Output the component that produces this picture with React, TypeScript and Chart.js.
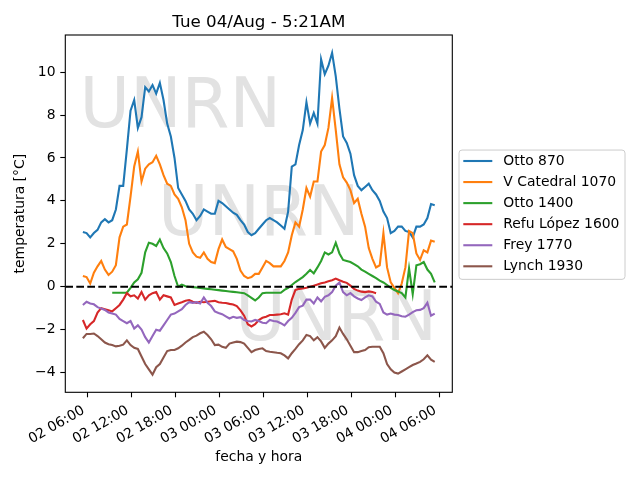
import React, { useEffect, useRef } from "react";
import { Chart, registerables } from "chart.js";

Chart.register(...registerables);

// hours since 02/Aug 00:00, one reading every half hour
const HOURS = [
  5.35, 5.85, 6.35, 6.85, 7.35, 7.85, 8.35, 8.85, 9.35, 9.85, 10.35, 10.85,
  11.35, 11.85, 12.35, 12.85, 13.35, 13.85, 14.35, 14.85, 15.35, 15.85, 16.35,
  16.85, 17.35, 17.85, 18.35, 18.85, 19.35, 19.85, 20.35, 20.85, 21.35, 21.85,
  22.35, 22.85, 23.35, 23.85, 24.35, 24.85, 25.35, 25.85, 26.35, 26.85, 27.35,
  27.85, 28.35, 28.85, 29.35, 29.85, 30.35, 30.85, 31.35, 31.85, 32.35, 32.85,
  33.35, 33.85, 34.35, 34.85, 35.35, 35.85, 36.35, 36.85, 37.35, 37.85, 38.35,
  38.85, 39.35, 39.85, 40.35, 40.85, 41.35, 41.85, 42.35, 42.85, 43.35, 43.85,
  44.35, 44.85, 45.35, 45.85, 46.35, 46.85, 47.35, 47.85, 48.35, 48.85, 49.35,
  49.85, 50.35, 50.85, 51.35, 51.85, 52.35, 52.85, 53.35,
];

const OTTO_870 = [
  2.55, 2.5, 2.3, 2.5, 2.65, 3.0, 3.15, 3.0, 3.1, 3.6, 4.7, 4.7, 6.4, 8.2, 8.7,
  7.4, 7.9, 9.3, 9.1, 9.4, 9.0, 9.5, 8.7, 7.6, 7.0, 6.0, 4.6, 4.3, 4.0, 3.6,
  3.4, 3.1, 3.3, 3.6, 3.5, 3.4, 3.4, 4.0, 3.9, 3.75, 3.6, 3.45, 3.35, 3.1, 2.9,
  2.55, 2.4, 2.5, 2.7, 2.9, 3.1, 3.2, 3.1, 3.0, 2.85, 2.7, 3.5, 5.6, 5.7, 6.6,
  7.3, 8.6, 7.6, 8.1, 7.6, 10.6, 9.9, 10.3, 10.9, 9.8, 8.3, 7.0, 6.7, 6.2, 5.2,
  4.7, 4.5, 4.65, 4.8, 4.5, 4.3, 4.0, 3.5, 3.2, 2.5, 2.6, 2.8, 2.8, 2.6, 2.55,
  2.3, 2.8, 2.8, 2.9, 3.2, 3.85, 3.8,
];

const V_CATEDRAL_1070 = [
  0.5, 0.45, 0.15, 0.65, 0.95, 1.2, 0.8, 0.55, 0.7, 1.0, 2.3, 2.8, 2.9, 4.2,
  5.6, 6.3, 4.9, 5.5, 5.7, 5.8, 6.1, 5.7, 5.2, 4.8, 4.7, 4.3, 4.1, 3.7, 3.1,
  2.0, 1.6, 1.4, 1.35, 1.6, 1.3, 1.15, 1.1, 1.75, 2.2, 1.85, 1.75, 1.65, 1.3,
  0.75, 0.5, 0.4, 0.45, 0.6, 0.6, 0.9, 1.2, 1.1, 0.95, 0.95, 0.95, 1.2, 1.6,
  2.4, 3.0, 2.8, 3.6, 4.6, 4.2, 4.9, 4.9, 6.3, 6.6, 7.4, 8.8, 7.3, 5.7, 5.1,
  4.85, 4.5, 3.9, 4.1, 3.4, 2.8, 1.8, 1.3, 0.9, 1.0, 2.5, 0.9, 0.2, -0.05,
  -0.3, 0.15, 0.9, 2.6, 2.5, 1.55, 1.25, 1.7, 1.6, 2.15, 2.1,
];

const OTTO_1400 = [
  null, null, null, null, null, null, null, null, -0.28, -0.28, -0.28, -0.28,
  -0.28, -0.05, 0.2, 0.35, 0.65, 1.6, 2.05, 2.0, 1.9, 2.2, 1.8, 1.55, 1.15,
  0.5, 0.0, 0.1, 0.02, 0.0, -0.02, -0.04, -0.06, -0.08, -0.1, -0.12, -0.14,
  -0.16, -0.18, -0.2, -0.22, -0.24, -0.26, -0.28, -0.3, -0.4, -0.52, -0.64,
  -0.5, -0.3, -0.28, -0.28, -0.28, -0.28, -0.28, -0.15, -0.05, 0.08, 0.22,
  0.33, 0.45, 0.6, 0.78, 0.62, 0.9, 1.2, 1.6, 1.5, 1.6, 2.05, 1.55, 1.25, 1.2,
  1.15, 1.05, 0.95, 0.8, 0.7, 0.6, 0.5, 0.4, 0.28, 0.2, 0.08, -0.05, -0.15,
  -0.22, -0.3, -0.5, 0.85, -0.35, 1.0, 1.05, 1.15, 0.8, 0.6, 0.2,
];

const REFU_LOPEZ_1600 = [
  -1.55, -1.95, -1.75, -1.6, -1.2, -1.0, -1.05, -1.1, -1.15, -1.0, -0.85, -0.6,
  -0.3, -0.45, -0.4, -0.55, -0.25, -0.6, -0.4, -0.3, -0.25, -0.6, -0.4, -0.45,
  -0.5, -0.85, -0.78, -0.72, -0.65, -0.62, -0.7, -0.75, -0.7, -0.72, -0.7,
  -0.68, -0.66, -0.72, -0.75, -0.76, -0.8, -0.83, -0.9, -1.1, -1.35, -1.75,
  -1.85, -1.75, -1.55, -1.45, -1.4, -1.32, -1.32, -1.3, -1.28, -1.24, -1.3,
  -0.6, -0.15, -0.1, -0.08, -0.05, 0.0, 0.05, 0.1, 0.16, 0.2, 0.25, 0.3, 0.38,
  0.3, 0.23, 0.18, 0.05, -0.1, -0.18, -0.23, -0.25, -0.22, -0.25, -0.3, null,
  null, null, null, null, null, null, null, null, null, null, null, null, null,
  null, null,
];

const FREY_1770 = [
  -0.85, -0.7, -0.78, -0.82, -0.95, -1.02, -1.08, -1.2, -1.25, -1.3, -1.5,
  -1.6, -1.7, -1.6, -1.95, -1.8, -2.0, -2.35, -2.6, -2.3, -2.0, -2.05, -1.8,
  -1.55, -1.3, -1.25, -1.15, -1.05, -0.85, -0.72, -0.75, -0.72, -0.78, -0.5,
  -0.75, -0.9, -1.15, -1.22, -1.28, -1.38, -1.48, -1.4, -1.45, -1.42, -1.55,
  -1.6, -1.62, -1.55, -1.6, -1.68, -1.7, -1.55, -1.6, -1.62, -1.7, -1.8, -1.6,
  -1.45, -1.22, -0.95, -0.88, -0.6, -0.6, -0.78, -0.5, -0.68, -0.47, -0.4,
  -0.25, 0.05, 0.2, -0.25, -0.4, -0.3, -0.45, -0.55, -0.62, -0.5, -0.4, -0.45,
  -0.7, -0.8, -1.2, -1.3, -1.25, -1.3, -1.32, -1.38, -1.4, -1.3, -1.18, -1.1,
  -1.08, -1.0, -0.75, -1.35, -1.25,
];

const LYNCH_1930 = [
  -2.4, -2.2, -2.2, -2.18, -2.3, -2.45, -2.6, -2.68, -2.72, -2.78, -2.75, -2.7,
  -2.5, -2.72, -2.85, -2.9, -3.25, -3.6, -3.85, -4.1, -3.75, -3.6, -3.3, -3.0,
  -2.95, -2.95, -2.87, -2.75, -2.6, -2.48, -2.35, -2.28, -2.17, -2.1, -2.25,
  -2.45, -2.72, -2.7, -2.8, -2.85, -2.65, -2.6, -2.56, -2.58, -2.65, -2.85,
  -3.05, -2.95, -2.9, -2.87, -3.0, -3.03, -3.05, -3.08, -3.1, -3.2, -3.34,
  -3.1, -2.9, -2.68, -2.5, -2.25, -2.3, -2.5, -2.35, -2.55, -2.85, -2.65, -2.5,
  -2.3, -1.9, -2.2, -2.45, -2.75, -3.05, -3.05, -3.0, -2.95, -2.82, -2.8, -2.8,
  -2.8, -3.1, -3.6, -3.85, -4.0, -4.05, -3.95, -3.85, -3.75, -3.65, -3.58,
  -3.5, -3.38, -3.2, -3.4, -3.5,
];

const SERIES_NAMES = [
  "Otto 870",
  "V Catedral 1070",
  "Otto 1400",
  "Refu López 1600",
  "Frey 1770",
  "Lynch 1930",
];
const SERIES_VALUES = [
  OTTO_870,
  V_CATEDRAL_1070,
  OTTO_1400,
  REFU_LOPEZ_1600,
  FREY_1770,
  LYNCH_1930,
];
const COLORS = ["#1f77b4", "#ff7f0e", "#2ca02c", "#d62728", "#9467bd", "#8c564b"];

const X_TICKS = [6, 12, 18, 24, 30, 36, 42, 48, 54];
const Y_TICKS = [-4, -2, 0, 2, 4, 6, 8, 10];
const X_MIN = 2.95;
const X_MAX = 55.75;
const Y_MIN = -4.92;
const Y_MAX = 11.73;

const TITLE = "Tue 04/Aug - 5:21AM";
const WATERMARK = "UNRN";
const FONT = "'DejaVu Sans', 'Liberation Sans', sans-serif";

const pad2 = (n: number) => String(n).padStart(2, "0");
const fmtHour = (h: number) =>
  `${pad2(2 + Math.floor(h / 24))} ${pad2(h % 24)}:00`;
const fmtTemp = (v: number) => (v < 0 ? `\u2212${Math.abs(v)}` : `${v}`);

const decorPlugin = {
  id: "decor",
  beforeDatasetsDraw(chart: any) {
    const { ctx, chartArea: a } = chart;
    const w = a.right - a.left;
    const h = a.bottom - a.top;
    ctx.save();
    ctx.font = `69px ${FONT}`;
    ctx.fillStyle = "#e2e2e2";
    ctx.textAlign = "center";
    ctx.textBaseline = "alphabetic";
    [
      [0.297, 0.257],
      [0.5, 0.56],
      [0.7, 0.855],
    ].forEach(([fx, fy]) => {
      ctx.fillText(WATERMARK, a.left + fx * w, a.top + fy * h);
    });
    ctx.restore();
  },
  afterDatasetsDraw(chart: any) {
    const { ctx, chartArea: a } = chart;
    ctx.save();
    ctx.strokeStyle = "#000";
    ctx.lineWidth = 1.1;
    ctx.strokeRect(a.left, a.top, a.right - a.left, a.bottom - a.top);
    ctx.restore();
  },
  afterDraw(chart: any) {
    const { ctx, chartArea: a } = chart;
    ctx.save();
    // title
    ctx.font = `16.7px ${FONT}`;
    ctx.fillStyle = "#000";
    ctx.textAlign = "center";
    ctx.textBaseline = "alphabetic";
    ctx.fillText(TITLE, (a.left + a.right) / 2, 27);

    // legend outside the axes, on the right
    const mid = (a.top + a.bottom) / 2;
    const bx = a.right + 6.7;
    const by = mid - 63.6;
    const bw = 166;
    const bh = 129.3;
    ctx.beginPath();
    ctx.roundRect(bx, by, bw, bh, 3);
    ctx.fillStyle = "rgba(255,255,255,0.8)";
    ctx.fill();
    ctx.strokeStyle = "#cccccc";
    ctx.lineWidth = 1;
    ctx.stroke();
    ctx.font = `13.9px ${FONT}`;
    ctx.textAlign = "left";
    ctx.textBaseline = "middle";
    const step = 21.06;
    SERIES_NAMES.forEach((name, i) => {
      const y = mid - 2.5 * step + i * step;
      ctx.beginPath();
      ctx.moveTo(bx + 4.3, y);
      ctx.lineTo(bx + 33.3, y);
      ctx.strokeStyle = COLORS[i];
      ctx.lineWidth = 2.1;
      ctx.stroke();
      ctx.fillStyle = "#000";
      ctx.fillText(name, bx + 44.3, y + 0.5);
    });
    ctx.restore();
  },
};

export default function App() {
  const canvasRef = useRef<HTMLCanvasElement>(null);
  const chartRef = useRef<Chart | null>(null);

  useEffect(() => {
    if (!canvasRef.current) return;
    if (chartRef.current) chartRef.current.destroy();

    Chart.defaults.font.family = FONT;
    Chart.defaults.font.size = 13.9;
    Chart.defaults.color = "#000";

    const datasets: any[] = SERIES_VALUES.map((vals, i) => ({
      label: SERIES_NAMES[i],
      data: HOURS.map((h, j) => ({ x: h, y: vals[j] })),
      borderColor: COLORS[i],
      backgroundColor: COLORS[i],
      borderWidth: 2.1,
      pointRadius: 0,
      tension: 0,
      fill: false,
      spanGaps: false,
      order: 10 - i,
    }));
    datasets.push({
      label: "cero",
      data: [
        { x: X_MIN, y: 0 },
        { x: X_MAX, y: 0 },
      ],
      borderColor: "#000",
      borderWidth: 2.1,
      borderDash: [7.7, 3.3],
      pointRadius: 0,
      fill: false,
      order: -1,
    });

    const tickGrid = {
      display: true,
      drawOnChartArea: false,
      drawTicks: true,
      tickLength: 5,
      tickWidth: 1.1,
      tickColor: "#000",
    };

    chartRef.current = new Chart(canvasRef.current, {
      type: "line",
      data: { datasets },
      options: {
        animation: false,
        responsive: true,
        maintainAspectRatio: false,
        layout: { padding: { left: 0, top: 35, right: 187.7, bottom: 0 } },
        plugins: {
          legend: { display: false },
          title: { display: false },
          tooltip: { enabled: false },
        },
        scales: {
          x: {
            type: "linear",
            min: X_MIN,
            max: X_MAX,
            afterBuildTicks: (s: any) => {
              s.ticks = X_TICKS.map((v) => ({ value: v }));
            },
            afterFit: (s: any) => {
              s.height = 87.7;
            },
            ticks: {
              autoSkip: false,
              minRotation: 30,
              maxRotation: 30,
              padding: 4.9,
              labelOffset: -4,
              callback: (v: any) => fmtHour(Number(v)),
            },
            grid: tickGrid,
            border: { display: false },
            title: {
              display: true,
              text: "fecha y hora",
              font: { size: 13.9 },
              padding: { top: 0, bottom: 14.4 },
            },
          },
          y: {
            type: "linear",
            min: Y_MIN,
            max: Y_MAX,
            afterBuildTicks: (s: any) => {
              s.ticks = Y_TICKS.map((v) => ({ value: v }));
            },
            afterFit: (s: any) => {
              s.width = 65.3;
            },
            ticks: {
              autoSkip: false,
              padding: 4.8,
              callback: (v: any) => fmtTemp(Number(v)),
            },
            grid: tickGrid,
            border: { display: false },
            title: {
              display: true,
              text: "temperatura [°C]",
              font: { size: 13.9 },
              padding: { top: 12.4, bottom: 0 },
            },
          },
        },
      },
      plugins: [decorPlugin],
    });

    return () => {
      chartRef.current?.destroy();
      chartRef.current = null;
    };
  }, []);

  return (
    <div
      style={{
        position: "absolute",
        left: 0,
        top: 0,
        width: 640,
        height: 480,
        background: "#fff",
      }}
    >
      <canvas
        ref={canvasRef}
        role="img"
        aria-label="Temperaturas por estación, 02 al 04 de agosto"
      />
    </div>
  );
}
